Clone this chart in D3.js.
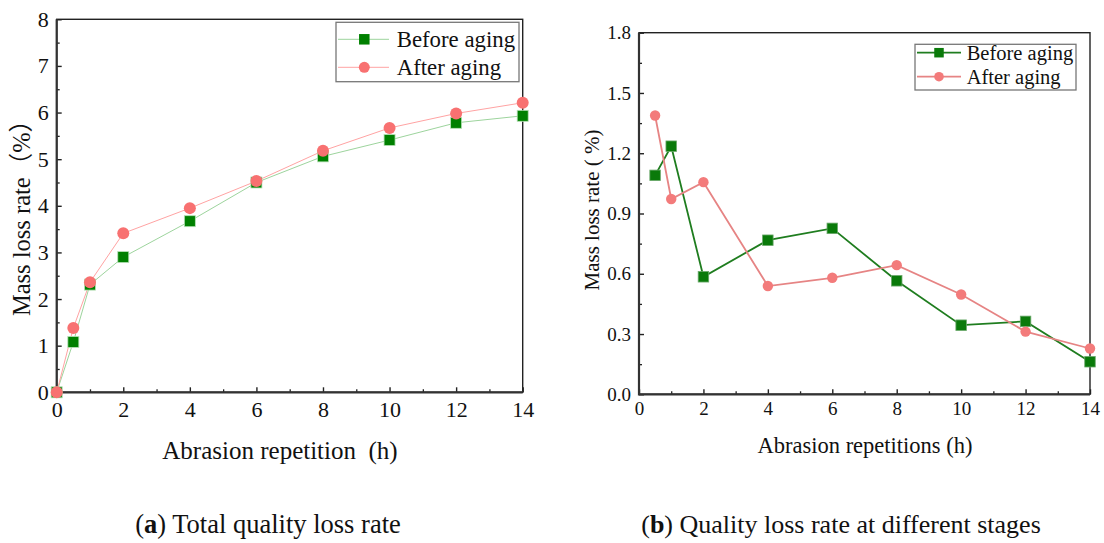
<!DOCTYPE html>
<html>
<head>
<meta charset="utf-8">
<script src="https://cdn.jsdelivr.net/npm/d3@7"></script>
<style>
  html, body { margin: 0; padding: 0; background: #fff; }
  svg { display: block; }
  text { font-family: "Liberation Serif", "Times New Roman", "Noto Sans CJK SC", serif; fill: #111; }
</style>
</head>
<body>
<svg id="fig" width="1104" height="543"></svg>
<script>
// Abrasion time (h)
const totalHours = [0, 0.5, 1, 2, 4, 6, 8, 10, 12, 14];
// Cumulative mass loss rate (%)
const totalBefore = [0, 1.08, 2.31, 2.90, 3.67, 4.50, 5.06, 5.41, 5.78, 5.93];
const totalAfter  = [0, 1.38, 2.36, 3.41, 3.95, 4.53, 5.18, 5.67, 5.98, 6.21];

const stageHours = [0.5, 1, 2, 4, 6, 8, 10, 12, 14];
// Mass loss rate per stage (%)
const stageBefore = [1.09, 1.235, 0.585, 0.767, 0.826, 0.565, 0.344, 0.363, 0.162];
const stageAfter  = [1.388, 0.972, 1.056, 0.539, 0.580, 0.643, 0.497, 0.312, 0.228];

const seriesNames = ["Before aging", "After aging"];
const xTickValues = [0, 2, 4, 6, 8, 10, 12, 14];
const leftYTicks  = [0, 1, 2, 3, 4, 5, 6, 7, 8];
const rightYTicks = [0, 0.3, 0.6, 0.9, 1.2, 1.5, 1.8];

const SERIF = "'Liberation Serif', 'Times New Roman', 'Noto Sans CJK SC', serif";
const svg = d3.select("#fig");

function drawPanel(o) {
  const g = svg.append("g").attr("font-family", SERIF);
  const x = d3.scaleLinear().domain([0, 14]).range([o.x0, o.x1]);
  const y = d3.scaleLinear().domain([0, o.yMax]).range([o.y1, o.y0]);

  // minor ticks (inward)
  g.append("g").attr("transform", `translate(0,${o.y1})`)
    .call(d3.axisBottom(x).tickValues(d3.range(1, 14, 2)).tickSize(-o.minor).tickFormat(""))
    .call(a => a.select(".domain").remove())
    .selectAll("line").attr("stroke", "#222").attr("stroke-width", 1.3);
  g.append("g").attr("transform", `translate(${o.x0},0)`)
    .call(d3.axisLeft(y).tickValues(o.yMinor).tickSize(-o.minor).tickFormat(""))
    .call(a => a.select(".domain").remove())
    .selectAll("line").attr("stroke", "#222").attr("stroke-width", 1.3);

  // major ticks and labels
  const xa = g.append("g").attr("transform", `translate(0,${o.y1})`)
    .call(d3.axisBottom(x).tickValues(xTickValues).tickSize(-o.major).tickPadding(o.xPad))
    .call(a => a.select(".domain").remove());
  xa.attr("font-family", SERIF);
  xa.selectAll("line").attr("stroke", "#222").attr("stroke-width", 1.4);
  xa.selectAll("text").attr("font-size", o.tickFont).attr("fill", "#111");

  const ya = g.append("g").attr("transform", `translate(${o.x0},0)`)
    .call(d3.axisLeft(y).tickValues(o.yTicks).tickSize(-o.major).tickPadding(o.yPad).tickFormat(o.yFmt))
    .call(a => a.select(".domain").remove());
  ya.attr("font-family", SERIF);
  ya.selectAll("line").attr("stroke", "#222").attr("stroke-width", 1.4);
  ya.selectAll("text").attr("font-size", o.tickFont).attr("fill", "#111");

  // frame
  g.append("rect").attr("x", o.x0).attr("y", o.y0)
    .attr("width", o.x1 - o.x0).attr("height", o.y1 - o.y0)
    .attr("fill", "none").attr("stroke", "#222").attr("stroke-width", 1.4);
  g.append("path").attr("d", `M${o.x0},${o.y0}V${o.y1}H${o.x1}`)
    .attr("fill", "none").attr("stroke", "#333").attr("stroke-width", 2.2);

  const line = d3.line().x(d => x(d[0])).y(d => y(d[1]));
  const ptsB = o.hours.map((h, i) => [h, o.before[i]]);
  const ptsA = o.hours.map((h, i) => [h, o.after[i]]);

  g.append("path").datum(ptsB).attr("d", line).attr("fill", "none")
    .attr("stroke", o.greenLine).attr("stroke-width", o.lineW);
  g.append("path").datum(ptsA).attr("d", line).attr("fill", "none")
    .attr("stroke", o.pinkLine).attr("stroke-width", o.lineW);

  g.selectAll(".sq").data(ptsB).join("rect")
    .attr("x", d => x(d[0]) - o.sq / 2).attr("y", d => y(d[1]) - o.sq / 2)
    .attr("width", o.sq).attr("height", o.sq)
    .attr("fill", o.green).attr("stroke", o.sqStroke).attr("stroke-width", 0.8);
  g.selectAll(".ci").data(ptsA).join("circle")
    .attr("cx", d => x(d[0])).attr("cy", d => y(d[1])).attr("r", o.r)
    .attr("fill", o.pink);

  // legend
  const L = o.legend;
  g.append("rect").attr("x", L.x0).attr("y", L.y0).attr("width", L.x1 - L.x0).attr("height", L.y1 - L.y0)
    .attr("fill", "#fff").attr("stroke", "#777").attr("stroke-width", 1.3);
  L.rows.forEach((ry, i) => {
    g.append("line").attr("x1", L.lx0).attr("x2", L.lx1).attr("y1", ry).attr("y2", ry)
      .attr("stroke", i === 0 ? o.greenLine : o.pinkLine).attr("stroke-width", o.lineW);
    if (i === 0) {
      g.append("rect").attr("x", L.mx - L.sq / 2).attr("y", ry - L.sq / 2)
        .attr("width", L.sq).attr("height", L.sq).attr("fill", o.green);
    } else {
      g.append("circle").attr("cx", L.mx).attr("cy", ry).attr("r", L.r).attr("fill", o.pink);
    }
    g.append("text").attr("x", L.tx).attr("y", ry).attr("dy", "0.35em")
      .attr("font-size", L.font).text(seriesNames[i]);
  });

  // axis titles
  g.append("text").attr("transform", `translate(${o.yTitle.x},${o.yTitle.y}) rotate(-90)`)
    .attr("text-anchor", "middle").attr("dy", "0.35em").attr("font-size", o.yTitle.font)
    .text(o.yTitle.text);
  g.append("text").attr("x", o.xTitle.x).attr("y", o.xTitle.y)
    .attr("text-anchor", "middle").attr("dy", "0.35em").attr("font-size", o.xTitle.font)
    .style("white-space", "pre")
    .text(o.xTitle.text);

  // caption
  const cap = g.append("text").attr("x", o.caption.x).attr("y", o.caption.y)
    .attr("text-anchor", "middle").attr("dy", "0.35em").attr("font-size", o.caption.font);
  cap.append("tspan").text("(");
  cap.append("tspan").attr("font-weight", "bold").text(o.caption.letter);
  cap.append("tspan").text(") " + o.caption.text);
}

drawPanel({
  x0: 56.7, x1: 522.7, y0: 19.3, y1: 392.3, yMax: 8,
  yTicks: leftYTicks, yMinor: d3.range(0.5, 8, 1), yFmt: d3.format("d"),
  major: 5, minor: 3, xPad: 9, yPad: 8, tickFont: 22,
  hours: totalHours, before: totalBefore, after: totalAfter,
  green: "#008000", pink: "#f87171", greenLine: "#9dd49d", pinkLine: "#ffa3a3",
  sqStroke: "#b7e0b7", lineW: 1, sq: 11, r: 6,
  legend: { x0: 336, x1: 519, y0: 22.3, y1: 81.7, rows: [39.3, 67.3], lx0: 338, lx1: 389,
            mx: 364.3, sq: 10.5, r: 5.5, tx: 396.7, font: 22.8 },
  yTitle: { x: 21, y: 212, font: 24.5, text: "Mass loss rate（%）" },
  xTitle: { x: 280, y: 450, font: 25, text: "Abrasion repetition  (h)" },
  caption: { x: 268, y: 524, font: 26.5, letter: "a", text: "Total quality loss rate" }
});

drawPanel({
  x0: 639, x1: 1090, y0: 32.7, y1: 394.3, yMax: 1.8,
  yTicks: rightYTicks, yMinor: d3.range(0.15, 1.8, 0.3), yFmt: d3.format(".1f"),
  major: 5, minor: 3, xPad: 7, yPad: 8, tickFont: 19,
  hours: stageHours, before: stageBefore, after: stageAfter,
  green: "#0a7a0a", pink: "#f37b7b", greenLine: "#1f7d1f", pinkLine: "#e68484",
  sqStroke: "#6aa86a", lineW: 1.8, sq: 10.5, r: 5.2,
  legend: { x0: 915, x1: 1076, y0: 44.3, y1: 90, rows: [52.7, 76.7], lx0: 917, lx1: 961,
            mx: 939, sq: 9.5, r: 4.8, tx: 966.7, font: 20.5 },
  yTitle: { x: 592, y: 210, font: 21, text: "Mass loss rate ( %)" },
  xTitle: { x: 865, y: 445, font: 22.5, text: "Abrasion repetitions (h)" },
  caption: { x: 841, y: 524, font: 26, letter: "b", text: "Quality loss rate at different stages" }
});
</script>
</body>
</html>
